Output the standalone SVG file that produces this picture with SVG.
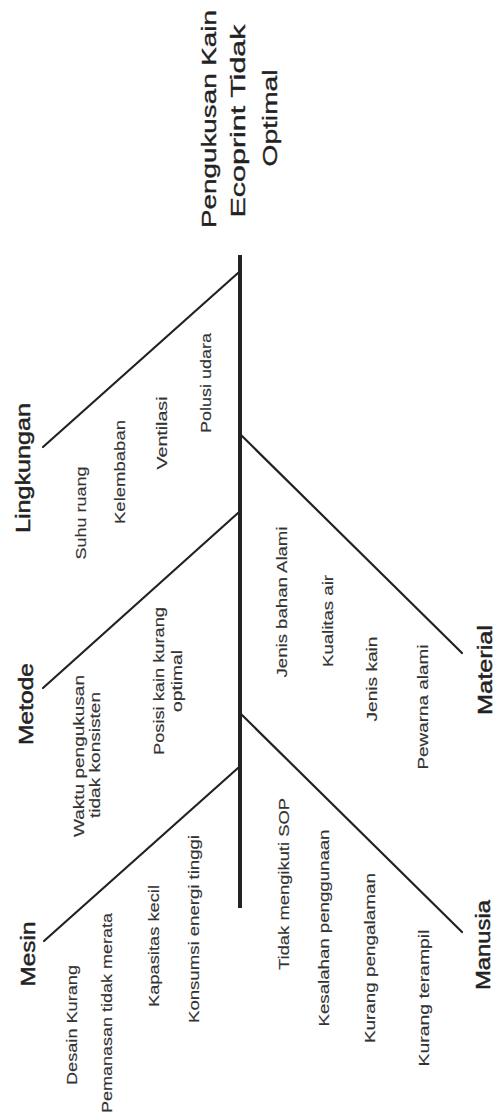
<svg xmlns="http://www.w3.org/2000/svg" width="494" height="1115" viewBox="0 0 494 1115">
<style>
text{font-family:"Liberation Sans",Arial,sans-serif;fill:#222;}
.t{font-size:21px;stroke:#222;stroke-width:0.35;}
.c{font-size:20px;stroke:#222;stroke-width:0.45;}
.s{font-size:14.5px;fill:#333;stroke:#333;stroke-width:0.15;}
.spine{stroke:#222;stroke-width:4;fill:none;}
.bone{stroke:#222;stroke-width:2.2;fill:none;stroke-linecap:round;}
</style>
<rect width="494" height="1115" fill="#fff"/>
<g id="connectors">
<line class="spine" x1="240" y1="255" x2="240" y2="908"/>
<line class="bone" x1="238" y1="273" x2="43" y2="447"/>
<line class="bone" x1="238" y1="513" x2="43" y2="688"/>
<line class="bone" x1="238" y1="768" x2="44" y2="941"/>
<line class="bone" x1="242" y1="436" x2="462" y2="653"/>
<line class="bone" x1="242" y1="715" x2="462" y2="932"/>
</g>
<g id="head">
<text class="t" transform="translate(216,228) rotate(-90)" textLength="218" lengthAdjust="spacingAndGlyphs">Pengukusan Kain</text>
<text class="t" transform="translate(245,217.5) rotate(-90)" textLength="193" lengthAdjust="spacingAndGlyphs">Ecoprint Tidak</text>
<text class="t" transform="translate(277,166.5) rotate(-90)" textLength="97" lengthAdjust="spacingAndGlyphs">Optimal</text>
</g>
<g id="lingkungan">
<text class="c" transform="translate(30,533) rotate(-90)" textLength="130" lengthAdjust="spacingAndGlyphs">Lingkungan</text>
<text class="s" transform="translate(86,559.5) rotate(-90)" textLength="93" lengthAdjust="spacingAndGlyphs">Suhu ruang</text>
<text class="s" transform="translate(125,524) rotate(-90)" textLength="104" lengthAdjust="spacingAndGlyphs">Kelembaban</text>
<text class="s" transform="translate(167,469.5) rotate(-90)" textLength="73" lengthAdjust="spacingAndGlyphs">Ventilasi</text>
<text class="s" transform="translate(211,433) rotate(-90)" textLength="100" lengthAdjust="spacingAndGlyphs">Polusi udara</text>
</g>
<g id="metode">
<text class="c" transform="translate(33,745) rotate(-90)" textLength="82" lengthAdjust="spacingAndGlyphs">Metode</text>
<text class="s" transform="translate(84,837) rotate(-90)" textLength="162" lengthAdjust="spacingAndGlyphs">Waktu pengukusan</text>
<text class="s" transform="translate(100,818) rotate(-90)" textLength="126" lengthAdjust="spacingAndGlyphs">tidak konsisten</text>
<text class="s" transform="translate(164,755) rotate(-90)" textLength="148" lengthAdjust="spacingAndGlyphs">Posisi kain kurang</text>
<text class="s" transform="translate(182,712) rotate(-90)" textLength="62" lengthAdjust="spacingAndGlyphs">optimal</text>
</g>
<g id="mesin">
<text class="c" transform="translate(35,986.5) rotate(-90)" textLength="65" lengthAdjust="spacingAndGlyphs">Mesin</text>
<text class="s" transform="translate(77,1085) rotate(-90)" textLength="120" lengthAdjust="spacingAndGlyphs">Desain Kurang</text>
<text class="s" transform="translate(112,1113) rotate(-90)" textLength="200" lengthAdjust="spacingAndGlyphs">Pemanasan tidak merata</text>
<text class="s" transform="translate(159,1007) rotate(-90)" textLength="122" lengthAdjust="spacingAndGlyphs">Kapasitas kecil</text>
<text class="s" transform="translate(199,1023) rotate(-90)" textLength="188" lengthAdjust="spacingAndGlyphs">Konsumsi energi tinggi</text>
</g>
<g id="material">
<text class="c" transform="translate(492,715) rotate(-90)" textLength="90" lengthAdjust="spacingAndGlyphs">Material</text>
<text class="s" transform="translate(287,677.5) rotate(-90)" textLength="151" lengthAdjust="spacingAndGlyphs">Jenis bahan Alami</text>
<text class="s" transform="translate(333,667) rotate(-90)" textLength="92" lengthAdjust="spacingAndGlyphs">Kualitas air</text>
<text class="s" transform="translate(377,721.5) rotate(-90)" textLength="85" lengthAdjust="spacingAndGlyphs">Jenis kain</text>
<text class="s" transform="translate(428,769.5) rotate(-90)" textLength="125" lengthAdjust="spacingAndGlyphs">Pewarna alami</text>
</g>
<g id="manusia">
<text class="c" transform="translate(490,990) rotate(-90)" textLength="90" lengthAdjust="spacingAndGlyphs">Manusia</text>
<text class="s" transform="translate(289,970) rotate(-90)" textLength="172" lengthAdjust="spacingAndGlyphs">Tidak mengikuti SOP</text>
<text class="s" transform="translate(329,1026.5) rotate(-90)" textLength="197" lengthAdjust="spacingAndGlyphs">Kesalahan penggunaan</text>
<text class="s" transform="translate(375,1043) rotate(-90)" textLength="170" lengthAdjust="spacingAndGlyphs">Kurang pengalaman</text>
<text class="s" transform="translate(429,1066.5) rotate(-90)" textLength="137" lengthAdjust="spacingAndGlyphs">Kurang terampil</text>
</g>
</svg>
